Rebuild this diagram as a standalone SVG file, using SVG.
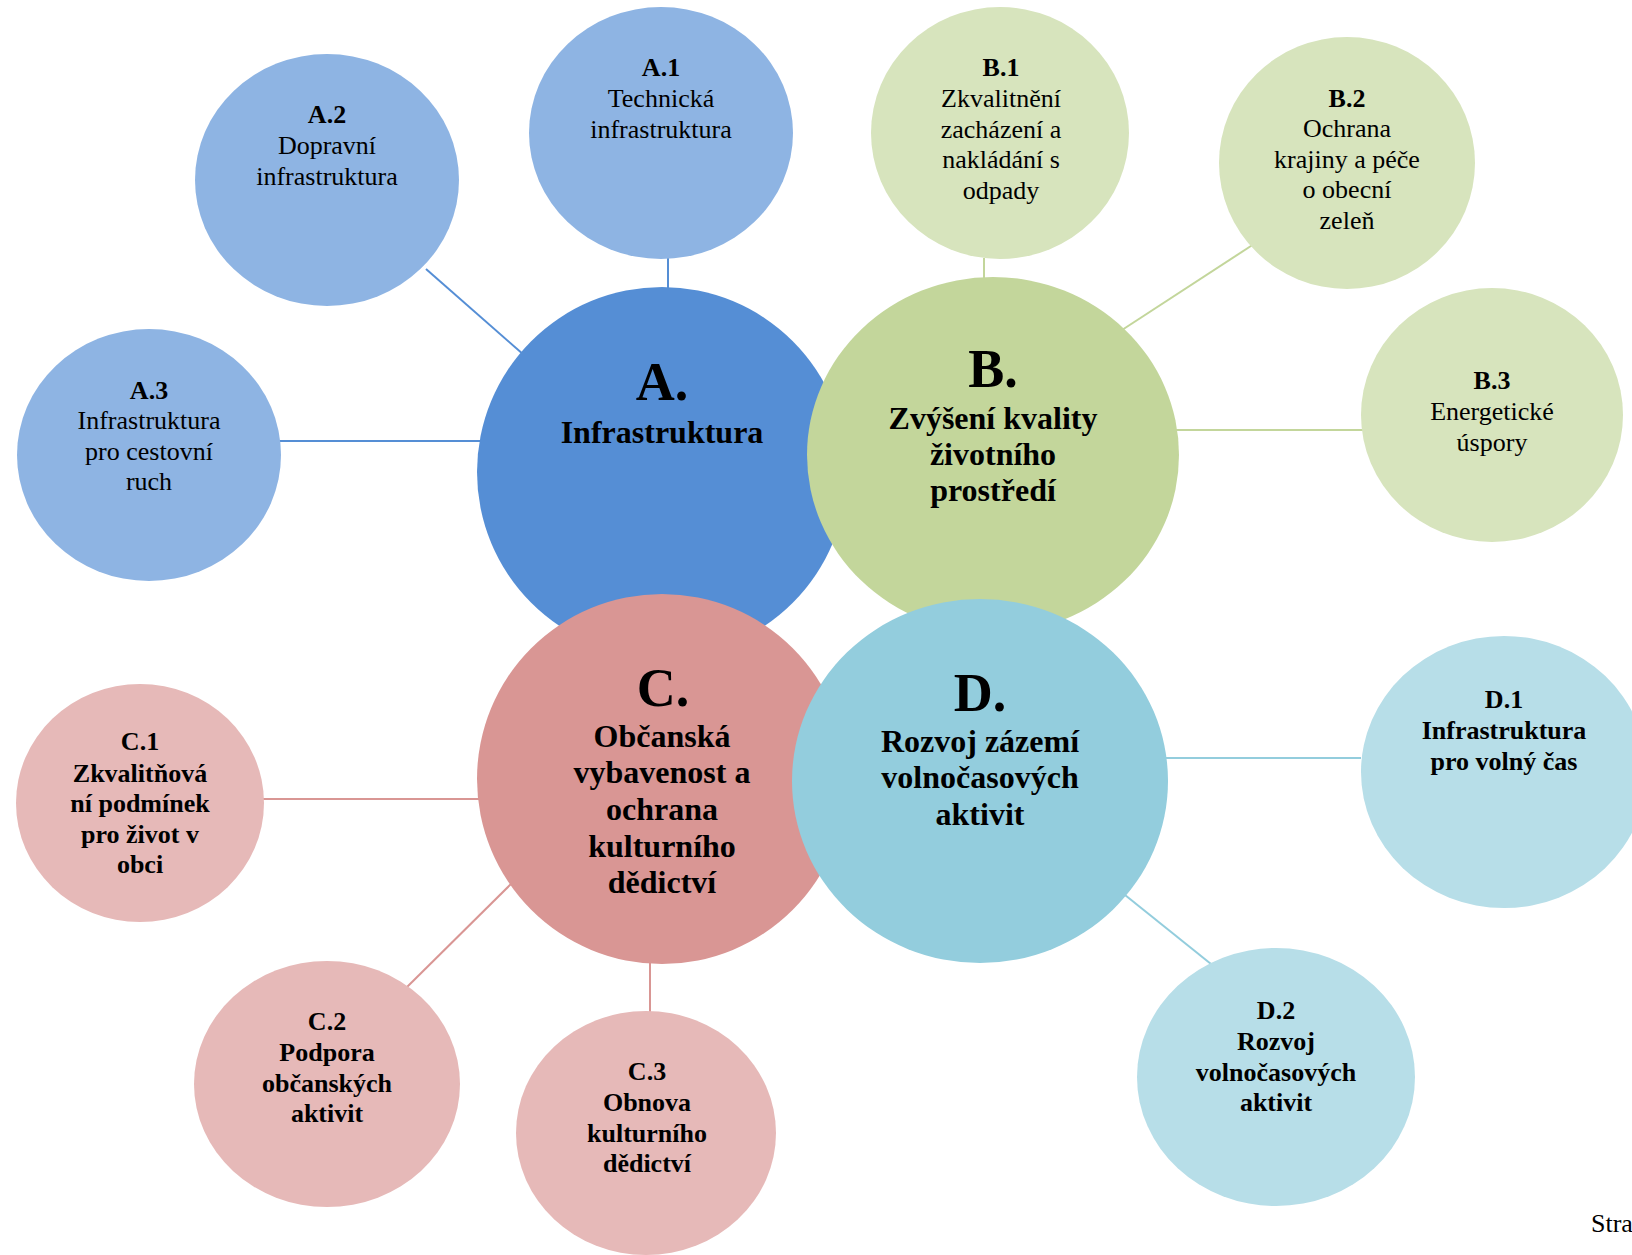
<svg xmlns="http://www.w3.org/2000/svg" width="1632" height="1255" viewBox="0 0 1632 1255">
<style>
text{font-family:"Liberation Serif","Times New Roman",serif;fill:#000;text-anchor:middle}
.big{font-size:54px;font-weight:bold}
.bt{font-size:32px;font-weight:bold}
.st{font-size:26px}
.b{font-weight:bold}
.la{stroke:#558ED5;stroke-width:2}
.lb{stroke:#C3D69B;stroke-width:2}
.lc{stroke:#D99694;stroke-width:2}
.ld{stroke:#93CDDD;stroke-width:2}
</style>
<rect width="1632" height="1255" fill="#fff"/>
<g id="connectors">
<line class="la" x1="668" y1="258" x2="668" y2="290"/>
<line class="la" x1="426" y1="269" x2="524" y2="355"/>
<line class="la" x1="279" y1="441" x2="482" y2="441"/>
<line class="lb" x1="984" y1="258" x2="984" y2="280"/>
<line class="lb" x1="1254" y1="244" x2="1122" y2="330"/>
<line class="lb" x1="1175" y1="430" x2="1363" y2="430"/>
<line class="lc" x1="262" y1="799" x2="480" y2="799"/>
<line class="lc" x1="405" y1="989" x2="512" y2="883"/>
<line class="lc" x1="650" y1="961" x2="650" y2="1013"/>
<line class="ld" x1="1165" y1="758" x2="1361" y2="758"/>
<line class="ld" x1="1125" y1="895" x2="1211" y2="964"/>
</g>
<g id="A">
<ellipse cx="662" cy="472" rx="185" ry="185" fill="#558ED5"/>
<text class="big" x="662" y="400">A.</text>
<text class="bt" x="662" y="443">Infrastruktura</text>
</g>
<g id="B">
<ellipse cx="993" cy="455" rx="186" ry="178" fill="#C3D69B"/>
<text class="big" x="993" y="387">B.</text>
<text class="bt" x="993" y="429">Zvýšení kvality</text>
<text class="bt" x="993" y="465">životního</text>
<text class="bt" x="993" y="501">prostředí</text>
</g>
<g id="C">
<ellipse cx="662" cy="779" rx="185" ry="185" fill="#D99694"/>
<text class="big" x="663" y="706">C.</text>
<text class="bt" x="662" y="747">Občanská</text>
<text class="bt" x="662" y="783">vybavenost a</text>
<text class="bt" x="662" y="820">ochrana</text>
<text class="bt" x="662" y="857">kulturního</text>
<text class="bt" x="662" y="893">dědictví</text>
</g>
<g id="D">
<ellipse cx="980" cy="781" rx="188" ry="182" fill="#93CDDD"/>
<text class="big" x="980" y="711">D.</text>
<text class="bt" x="980" y="752">Rozvoj zázemí</text>
<text class="bt" x="980" y="788">volnočasových</text>
<text class="bt" x="980" y="825">aktivit</text>
</g>
<g id="A1">
<ellipse cx="661" cy="133" rx="132" ry="126" fill="#8EB4E3"/>
<text class="st b" x="661" y="76">A.1</text>
<text class="st" x="661" y="107">Technická</text>
<text class="st" x="661" y="138">infrastruktura</text>
</g>
<g id="A2">
<ellipse cx="327" cy="180" rx="132" ry="126" fill="#8EB4E3"/>
<text class="st b" x="327" y="123">A.2</text>
<text class="st" x="327" y="154">Dopravní</text>
<text class="st" x="327" y="185">infrastruktura</text>
</g>
<g id="A3">
<ellipse cx="149" cy="455" rx="132" ry="126" fill="#8EB4E3"/>
<text class="st b" x="149" y="399">A.3</text>
<text class="st" x="149" y="429">Infrastruktura</text>
<text class="st" x="149" y="460">pro cestovní</text>
<text class="st" x="149" y="490">ruch</text>
</g>
<g id="B1">
<ellipse cx="1000" cy="133" rx="129" ry="126" fill="#D7E4BD"/>
<text class="st b" x="1001" y="76">B.1</text>
<text class="st" x="1001" y="107">Zkvalitnění</text>
<text class="st" x="1001" y="138">zacházení a</text>
<text class="st" x="1001" y="168">nakládání s</text>
<text class="st" x="1001" y="199">odpady</text>
</g>
<g id="B2">
<ellipse cx="1347" cy="163" rx="128" ry="126" fill="#D7E4BD"/>
<text class="st b" x="1347" y="107">B.2</text>
<text class="st" x="1347" y="137">Ochrana</text>
<text class="st" x="1347" y="168">krajiny a péče</text>
<text class="st" x="1347" y="198">o obecní</text>
<text class="st" x="1347" y="229">zeleň</text>
</g>
<g id="B3">
<ellipse cx="1492" cy="415" rx="131" ry="127" fill="#D7E4BD"/>
<text class="st b" x="1492" y="389">B.3</text>
<text class="st" x="1492" y="420">Energetické</text>
<text class="st" x="1492" y="451">úspory</text>
</g>
<g id="C1">
<ellipse cx="140" cy="803" rx="124" ry="119" fill="#E6B9B8"/>
<text class="st b" x="140" y="750">C.1</text>
<text class="st b" x="140" y="782">Zkvalitňová</text>
<text class="st b" x="140" y="812">ní podmínek</text>
<text class="st b" x="140" y="843">pro život v</text>
<text class="st b" x="140" y="873">obci</text>
</g>
<g id="C2">
<ellipse cx="327" cy="1084" rx="133" ry="123" fill="#E6B9B8"/>
<text class="st b" x="327" y="1030">C.2</text>
<text class="st b" x="327" y="1061">Podpora</text>
<text class="st b" x="327" y="1092">občanských</text>
<text class="st b" x="327" y="1122">aktivit</text>
</g>
<g id="C3">
<ellipse cx="646" cy="1133" rx="130" ry="122" fill="#E6B9B8"/>
<text class="st b" x="647" y="1080">C.3</text>
<text class="st b" x="647" y="1111">Obnova</text>
<text class="st b" x="647" y="1142">kulturního</text>
<text class="st b" x="647" y="1172">dědictví</text>
</g>
<g id="D1">
<ellipse cx="1504" cy="772" rx="143" ry="136" fill="#B7DEE8"/>
<text class="st b" x="1504" y="708">D.1</text>
<text class="st b" x="1504" y="739">Infrastruktura</text>
<text class="st b" x="1504" y="770">pro volný čas</text>
</g>
<g id="D2">
<ellipse cx="1276" cy="1077" rx="139" ry="129" fill="#B7DEE8"/>
<text class="st b" x="1276" y="1019">D.2</text>
<text class="st b" x="1276" y="1050">Rozvoj</text>
<text class="st b" x="1276" y="1081">volnočasových</text>
<text class="st b" x="1276" y="1111">aktivit</text>
</g>
<text class="st" x="1591" y="1232" style="text-anchor:start">Stra</text>
</svg>
